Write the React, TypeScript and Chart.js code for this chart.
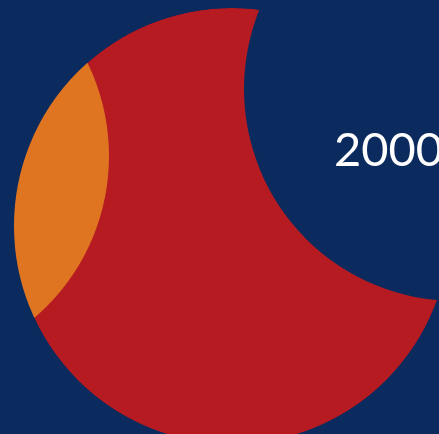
import React, { useEffect, useRef } from "react";
import { Chart, registerables } from "chart.js";

Chart.register(...registerables);

// ---- data ----
const discNames = ["Red", "Orange", "Navy"];
const discX = [232, -104, 456];
const discY = [226, 156, 89];
const discR = [218, 213, 212];
const yearLabels = ["2000"];
const yearX = [334];
const yearY = [166];

const NAVY = "#0b2a5e";
const RED = "#b71b22";
const ORANGE = "#e07521";
const WIDTH = 439;
const HEIGHT = 434;

const labelPlugin = {
  id: "yearLabel",
  afterDatasetsDraw(chart: any) {
    const idx = chart.data.datasets.findIndex((d: any) => d.label === "year");
    if (idx < 0) return;
    const meta = chart.getDatasetMeta(idx);
    const ctx = chart.ctx;
    ctx.save();
    ctx.fillStyle = "#ffffff";
    ctx.font = "47px Lato";
    ctx.textAlign = "left";
    ctx.textBaseline = "alphabetic";
    meta.data.forEach((el: any, i: number) => {
      ctx.fillText(yearLabels[i], el.x, el.y);
    });
    ctx.restore();
  },
};

export default function App() {
  const ref = useRef<HTMLCanvasElement>(null);
  useEffect(() => {
    if (!ref.current) return;
    const pt = (i: number, extra = 0) => [{ x: discX[i], y: discY[i], r: discR[i] + extra }];
    const chart = new Chart(ref.current, {
      type: "bubble",
      data: {
        datasets: [
          { label: discNames[0], data: pt(0), backgroundColor: RED, borderWidth: 0, order: 5, clip: false } as any,
          { label: discNames[1], data: pt(1), backgroundColor: ORANGE, borderWidth: 0, order: 4, clip: false } as any,
          {
            label: "mask",
            data: pt(0, 70),
            backgroundColor: "rgba(0,0,0,0)",
            borderColor: NAVY,
            borderWidth: 140,
            order: 3,
            clip: false,
          } as any,
          { label: discNames[2], data: pt(2), backgroundColor: NAVY, borderWidth: 0, order: 2, clip: false } as any,
          {
            label: "year",
            data: yearX.map((x, i) => ({ x, y: yearY[i], r: 0 })),
            backgroundColor: "rgba(0,0,0,0)",
            borderWidth: 0,
            order: 1,
            clip: false,
          } as any,
        ],
      },
      options: {
        responsive: false,
        animation: false,
        events: [],
        layout: { padding: 0, autoPadding: false },
        plugins: { legend: { display: false }, tooltip: { enabled: false }, title: { display: false } },
        scales: {
          x: { type: "linear", min: 0, max: WIDTH, display: false },
          y: { type: "linear", min: 0, max: HEIGHT, reverse: true, display: false },
        },
      },
      plugins: [labelPlugin],
    });
    return () => chart.destroy();
  }, []);
  return (
    <div
      style={{
        position: "fixed",
        left: 0,
        top: 0,
        width: WIDTH,
        height: HEIGHT,
        background: NAVY,
        overflow: "hidden",
      }}
    >
      <canvas ref={ref} width={WIDTH} height={HEIGHT} style={{ display: "block" }} />
    </div>
  );
}
